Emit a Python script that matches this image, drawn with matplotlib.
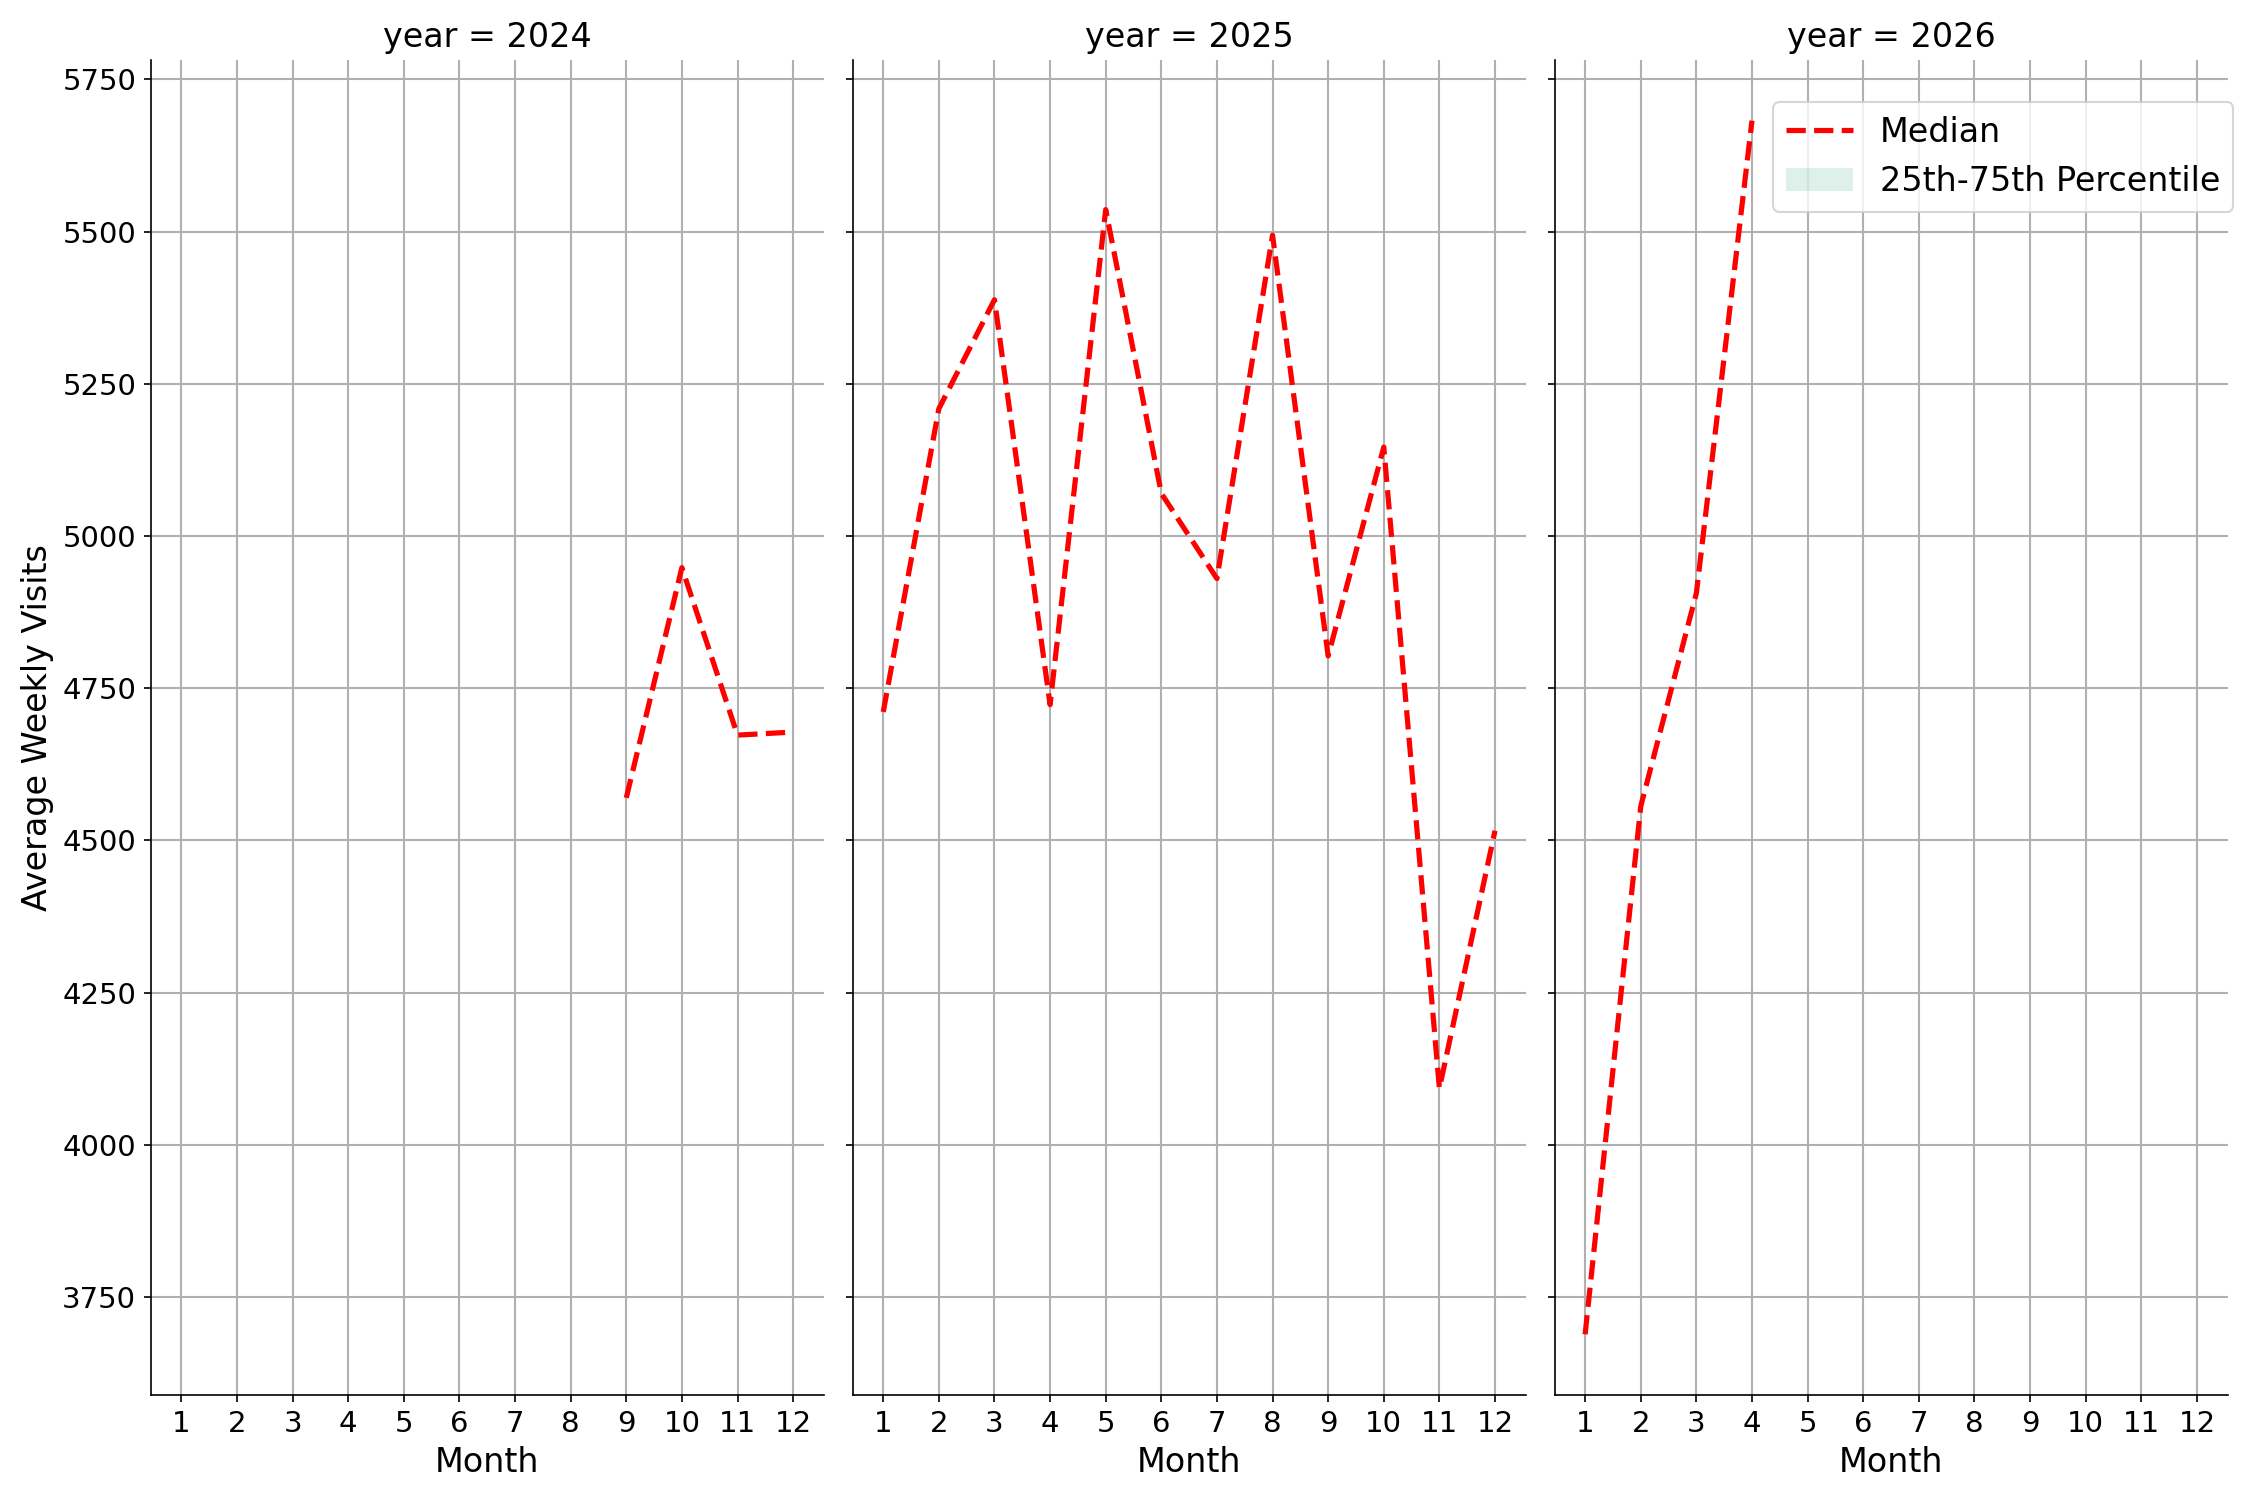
import matplotlib
matplotlib.use("Agg")
import matplotlib.pyplot as plt
from matplotlib.patches import Patch
from matplotlib.lines import Line2D
import numpy as np

years = [2024, 2025, 2026]
months = list(range(1, 13))
months_2024 = [9, 10, 11, 12]
median_2024 = [4570, 4948, 4673, 4678]
months_2025 = [1, 2, 3, 4, 5, 6, 7, 8, 9, 10, 11, 12]
median_2025 = [4711, 5209, 5388, 4723, 5536, 5070, 4930, 5494, 4803, 5146, 4093, 4516]
months_2026 = [1, 2, 3, 4]
median_2026 = [3689, 4556, 4906, 5682]
yticks = [3750, 4000, 4250, 4500, 4750, 5000, 5250, 5500, 5750]

series = {2024: (months_2024, median_2024),
          2025: (months_2025, median_2025),
          2026: (months_2026, median_2026)}

fig, axes = plt.subplots(1, 3, figsize=(15, 10), dpi=150, sharey=True)
fig.subplots_adjust(left=0.067, right=0.990, top=0.960, bottom=0.070, wspace=0.043)

for ax, yr in zip(axes, years):
    x, y = series[yr]
    ax.plot(x, y, color="red", linestyle="--", linewidth=2.5, label="Median")
    ax.set_title(f"year = {yr}", fontsize=16)
    ax.set_xticks(months)
    ax.set_xlim(0.45, 12.55)
    ax.set_xlabel("Month", fontsize=16)
    ax.grid(True, color="#b0b0b0", linewidth=1.0)
    ax.set_axisbelow(True)
    ax.spines["top"].set_visible(False)
    ax.spines["right"].set_visible(False)
    ax.tick_params(labelsize=14)

axes[0].set_ylabel("Average Weekly Visits", fontsize=16)
axes[0].set_yticks(yticks)
allv = median_2024 + median_2025 + median_2026
rng = max(allv) - min(allv)
axes[0].set_ylim(min(allv) - 0.05 * rng, max(allv) + 0.05 * rng)

handles = [Line2D([0], [0], color="red", linestyle="--", linewidth=2.5),
           Patch(facecolor="#1b9e77", alpha=0.15, edgecolor="none")]
axes[2].legend(handles, ["Median", "25th-75th Percentile"], loc="upper right",
               fontsize=16, bbox_to_anchor=(1.0, 0.943),
               bbox_transform=fig.transFigure)

fig.savefig("out.png", dpi=150)
